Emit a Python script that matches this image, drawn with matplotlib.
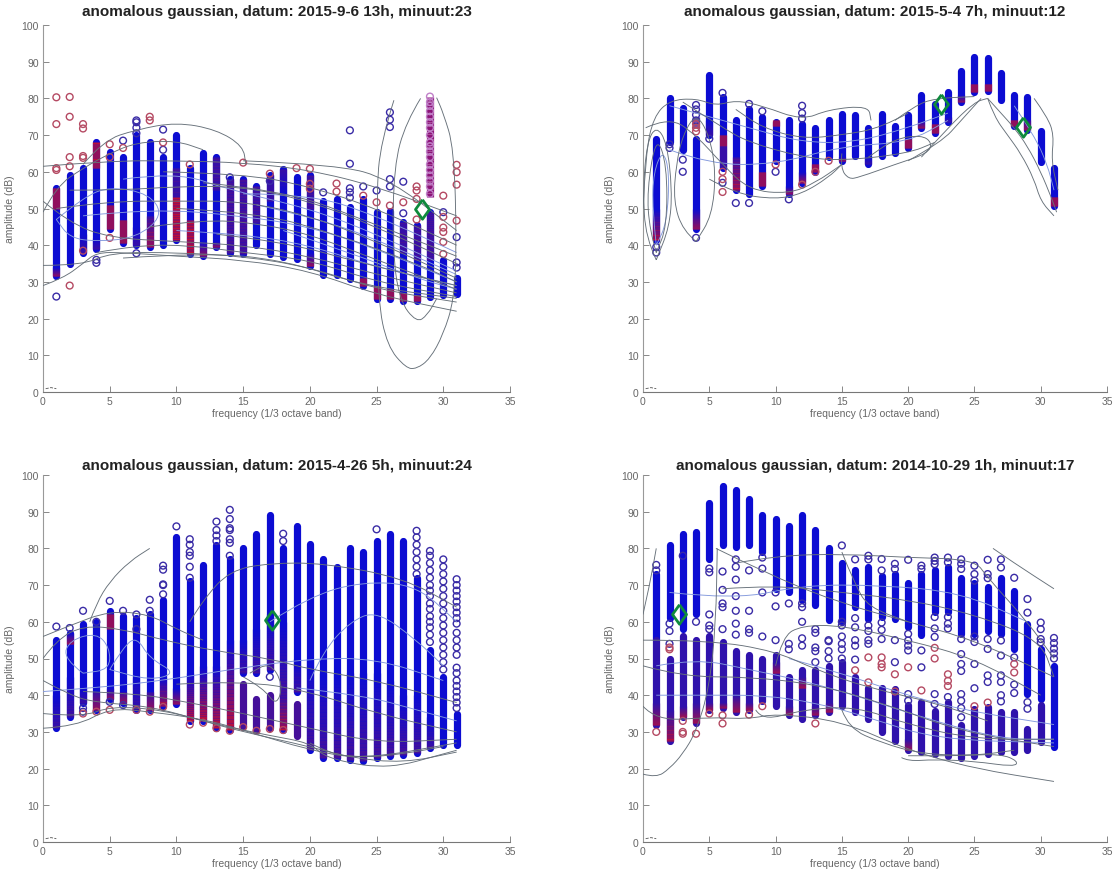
import numpy as np
import matplotlib
matplotlib.use("Agg")
import matplotlib.pyplot as plt
from matplotlib.collections import LineCollection
from matplotlib.colors import to_rgb
from matplotlib.path import Path
from matplotlib.patches import PathPatch

plt.rcParams['font.family'] = ['Liberation Sans', 'DejaVu Sans']

bands = list(range(1, 32))

# ---- panel 1
p1_title = "anomalous gaussian, datum: 2015-9-6 13h, minuut:23"
p1_top = [55.5, 59, 61, 68, 65.5, 64, 70, 68, 64, 70, 61, 65, 64, 58, 58, 56, 59, 60.8, 58.5, 59, 52, 52.6, 50.4, 52.6, 49, 49.4, 46.2, 45.4, 49, 36, 31]
p1_bot = [31.5, 35, 38, 39, 44.5, 40.5, 40, 39.5, 40, 41.5, 37.5, 37, 39.5, 38, 37.5, 40, 37.5, 36.7, 36.2, 34.4, 32, 32, 30.8, 29, 25.4, 25.4, 24.9, 24.9, 25.8, 26.3, 26.7]
p1_low_top = []
p1_low_bot = []
p1_low_x = []
# band, high, low, end colour, start colour
p1_ramps = [(1, 55.5, 50, 'r', 'r'), (1, 34, 31.5, 'r', 'b'), (3, 43, 38, 'p', 'b'), (4, 68, 61, 'r', 'r'),
            (4, 42, 39, 'p', 'b'), (5, 51, 44.5, 'r', 'r'), (6, 47, 40.5, 'r', 'r'), (7, 45, 40, 'p', 'b'),
            (8, 48, 39.5, 'r', 'p'), (10, 61, 53, 'p', 'p'), (10, 53, 41.5, 'r', 'r'), (11, 47, 37.5, 'r', 'r'),
            (12, 41, 37, 'r', 'b'), (13, 64, 55, 'p', 'p'), (13, 41, 39.5, 'r', 'b'), (14, 58, 38, 'p', 'p'),
            (15, 58, 37.5, 'p', 'p'), (16, 56, 46, 'p', 'p'), (17, 59, 52, 'p', 'p'), (18, 60.8, 54, 'b', 'p'),
            (20, 59, 50, 'p', 'p'), (20, 38, 34.4, 'r', 'b'), (24, 31, 29, 'r', 'r'), (25, 29, 25.4, 'r', 'r'),
            (26, 28, 25.4, 'r', 'r'), (27, 27, 24.9, 'r', 'r'), (28, 26.5, 24.9, 'r', 'r'), (27, 46.2, 38, 'p', 'p'),
            (28, 45.4, 36, 'p', 'p'), (29, 80.5, 53, 'm', 'm'), (29, 49, 36, 'p', 'p')]
p1_out_blue = [(1, 26), (4, 36), (4, 35.2), (6, 68.5), (7, 74), (7, 73.5), (7, 72), (7, 70.5), (7, 37.8), (9, 71.5), (9, 66),
               (14, 58.5), (17, 57.5), (21, 54.4), (23, 71.3), (23, 62.2), (23, 55.5), (23, 54.4), (23, 53), (24, 56), (25, 54.9),
               (26, 76.2), (26, 74.2), (26, 72.2), (26, 58), (26, 56), (27, 57.3), (27, 48.7), (30, 49), (31, 42.2), (31, 35.3), (31, 33.9)]
p1_out_red = [(1, 80.3), (1, 73), (1, 61), (1, 60.5), (2, 80.4), (2, 75), (2, 64), (2, 61.5), (2, 29), (3, 73), (3, 71.8),
              (3, 64.3), (3, 63.8), (3, 38.5), (5, 67.5), (5, 64), (5, 42), (6, 66.5), (8, 75), (8, 74), (9, 68),
              (11, 62), (15, 62.5), (17, 59.5), (19, 61), (20, 60.8), (20, 56.7), (20, 55.4), (22, 56.8), (22, 54.6), (24, 53.5),
              (25, 51.7), (26, 50.8), (27, 51.7), (28, 56), (28, 54.9), (28, 52.6), (28, 47), (30, 53.5), (30, 47.7), (30, 44.8),
              (30, 43.6), (30, 40.9), (30, 37.6), (31, 61.9), (31, 59.9), (31, 56.5), (31, 46.7)]
p1_out_mag = [(29, 80.5), (29, 79), (29, 78), (29, 76.5), (29, 75), (29, 73.5), (29, 72), (29, 70), (29, 68), (29, 67), (29, 65.5),
              (29, 64), (29, 62), (29, 60.5), (29, 59), (29, 57.5), (29, 56), (29, 54)]
p1_diamonds = [(28.4, 50)]
p1_curves = [
    [(0, 61.5), (5, 63), (10, 63), (15, 62.5), (20, 60.5), (25, 56), (31, 48)],
    [(3, 62), (4.5, 68.5), (7, 71.5), (10, 73.5), (13, 71.5), (15, 67), (15.2, 62)],
    [(0, 49), (1, 56), (3, 61), (5, 65), (7, 68), (10, 68.5), (12, 66)],
    [(26.3, 79.5), (25.3, 68), (25, 54), (25.1, 25), (25.8, 12.5), (27.2, 6.5), (28, 6.3), (29, 9), (30, 15.7), (30.8, 25), (31, 40), (30.8, 66.5), (30, 76), (29.5, 80.2)],
    [(28.3, 80), (27.2, 73.5), (26.3, 61.6), (26.2, 39), (26.7, 25), (28, 18.9), (28.8, 20.9), (29.5, 25.4)],
    [(0, 29), (1.5, 31), (3, 35), (4, 38), (6, 38), (10, 37), (15, 36), (20, 33), (25, 26.5), (31, 22)],
    [(0, 34.5), (3, 34.5), (5, 38), (10, 38), (15, 37), (20, 34), (25, 28), (31, 24.5)],
    [(4, 38), (7, 40), (11, 40), (15, 38), (20, 36), (25, 30), (31, 26)],
    [(2, 55), (6, 55), (10, 56), (15, 56), (20, 52), (25, 45), (31, 35)],
    [(1, 50), (5, 52), (10, 52), (15, 52), (20, 48), (25, 41), (31, 31)],
    [(8, 45), (12, 47), (16, 46), (20, 43), (25, 36), (31, 28)],
    [(9, 60), (15, 59.5), (20, 56), (25, 50), (31, 40)],
    [(15, 63), (22, 62), (26, 58), (31, 44)],
    [(0, 52), (2, 46), (5, 42), (10, 41), (15, 40), (20, 37), (25, 32), (31, 27)],
    [(12, 57), (18, 55), (24, 47), (31, 37)],
    [(10, 50), (16, 49), (22, 43), (28, 35), (31, 30)],
    [(13, 43), (18, 41), (24, 35), (31, 29)],
    [(6, 36.5), (12, 38), (18, 36), (24, 29), (31, 25.5)],
]
p1_light = [
    [(1, 47), (3, 53), (5, 56), (8, 54), (9, 48), (7, 42), (4, 41), (2, 42), (1, 47)],
    [(6, 58), (10, 60), (14, 55), (20, 50), (25, 43), (31, 33)],
    [(3, 48), (8, 50), (15, 48), (20, 45), (25, 39), (31, 30)],
    [(15, 54), (20, 54), (25, 48), (31, 38)],
    [(10, 44), (15, 43), (20, 40), (25, 34), (31, 29)],
    [(16, 51), (21, 47), (26, 40), (31, 32)],
    [(18, 44), (23, 38), (28, 31), (31, 28)],
]

# ---- panel 2
p2_title = "anomalous gaussian, datum: 2015-5-4 7h, minuut:12"
p2_top = [69, 80, 77.5, 69, 86.5, 80.5, 74, 77, 75, 73.5, 74, 73, 72, 74, 75.7, 75.5, 72, 75.7, 72.4, 75.5, 80.9, 78.5, 81.8, 87.6, 91.2, 91, 87, 80.9, 80.5, 71, 60.9]
p2_bot = [41.5, 68, 66, 44.5, 70, 61, 55, 54, 56, 63, 54, 57, 60, 64, 63, 64.4, 62, 64.4, 65.1, 66.6, 72, 70.7, 73.6, 78.9, 81.7, 82, 79.5, 72.4, 71.5, 62.7, 50.7]
p2_low_top = []
p2_low_bot = []
p2_low_x = []
p2_ramps = [(1, 50, 41.5, 'r', 'b'), (4, 50, 44.5, 'r', 'b'), (4, 75, 72, 'p', 'p'), (5, 74, 70, 'p', 'b'), (6, 70, 67, 'r', 'r'),
            (6, 67, 61, 'p', 'p'), (7, 64, 55, 'r', 'p'), (9, 60, 56, 'r', 'r'), (10, 74, 72.5, 'r', 'r'), (11, 56, 54, 'r', 'b'),
            (12, 60, 57, 'r', 'b'), (13, 62, 60, 'r', 'r'), (15, 64, 63, 'r', 'b'), (17, 64, 62, 'p', 'b'), (20, 69, 66.6, 'r', 'r'),
            (21, 74, 72, 'r', 'b'), (22, 73, 70.7, 'r', 'r'), (23, 75, 73.6, 'p', 'b'), (24, 81, 78.9, 'r', 'b'),
            (25, 84, 81.7, 'r', 'r'), (26, 84, 82, 'r', 'r'), (28, 74, 72.4, 'r', 'r'), (29, 74, 71.5, 'r', 'p'), (31, 53, 50.7, 'r', 'r')]
p2_out_blue = [(1, 39.5), (1, 38), (2, 67.5), (2, 66.5), (3, 63.3), (3, 60), (4, 78.2), (4, 77), (4, 75.5), (4, 74), (4, 42),
               (5, 69), (6, 81.5), (6, 57), (7, 51.5), (8, 78.5), (8, 51.5), (9, 76.5), (10, 60), (11, 52.5), (12, 78), (12, 76), (12, 74.5)]
p2_out_red = [(4, 73), (4, 72), (4, 71), (6, 60), (6, 58), (6, 54.5), (10, 62), (12, 56.5), (14, 63), (13, 60)]
p2_out_mag = []
p2_diamonds = [(22.5, 78.4), (28.7, 72.2)]
p2_curves = [
    [(0, 50), (0.2, 65), (0.8, 75), (2, 79.5), (4, 80), (5.5, 78), (7, 79.5), (9, 78), (12, 74), (14, 77), (17, 78), (17.2, 74)],
    [(1, 36), (0.2, 42), (0, 55), (0.3, 68), (1, 72.5), (1.8, 68), (2.2, 55), (2, 45), (1, 36)],
    [(1, 38), (0.5, 44), (0.3, 55), (1, 70), (1.8, 62), (1.8, 45), (1, 38)],
    [(4, 41), (3, 44), (2.3, 52), (2.5, 62), (3, 70), (4, 76), (5, 70), (5.5, 60), (5.2, 48), (4, 41)],
    [(0.2, 72), (2, 75), (4, 70), (6, 62), (8, 55), (11, 54), (13, 57), (15, 62)],
    [(3, 79), (6, 72), (8, 68), (12, 64), (15, 63), (20, 65), (22, 68)],
    [(5, 58), (7, 54), (10, 52.5), (12, 54), (14, 58.5), (15, 62)],
    [(15, 65), (14.9, 61), (15.5, 58), (16.3, 58.5), (19, 62), (21.5, 65), (21.8, 68), (21, 70), (19, 69), (17, 64)],
    [(20, 76), (18, 72), (15, 70), (12, 69), (9, 72), (7, 77)],
    [(19, 74), (20.5, 78), (22, 80), (25, 80.5)],
    [(21, 64), (23, 72), (25, 79), (26, 80)],
    [(20, 63), (22.5, 68), (24, 74), (25.5, 80)],
    [(26, 80), (26.5, 75), (27.5, 70), (28.5, 65), (29.5, 58), (30, 52), (31, 48)],
    [(26, 80), (27, 76), (28, 72), (29, 67), (30, 60), (30.8, 53), (31.2, 49)],
    [(29.5, 80), (30.5, 75), (31, 70), (30.8, 63), (31.3, 55)],
]
p2_light = [
    [(1, 40), (0.7, 50), (0.8, 60), (1.5, 66), (2, 60), (1.8, 46), (1, 40)],
    [(2, 78), (5, 75), (8, 72), (12, 68), (16, 68), (20, 72), (23, 76)],
    [(2, 66), (5, 62), (10, 62), (15, 67), (20, 68), (23, 74)],
    [(28, 78), (29.5, 70), (30.5, 62), (31, 55)],
]

# ---- panel 3
p3_title = "anomalous gaussian, datum: 2015-4-26 5h, minuut:24"
p3_top = [55, 57, 59.5, 60, 63, 61.5, 61, 62, 66, 83, 71, 75.5, 81, 77, 80, 84, 89, 80, 86, 81.2, 77, 74.8, 80.2, 78.9, 82, 83.9, 82, 72, 52.4, 45, 35]
p3_bot = [31, 34, 38, 36, 39, 38, 36, 36, 37, 37.5, 33, 33, 31, 30.5, 46, 46, 47, 30.6, 41, 25.1, 22.9, 22.9, 22.4, 22, 22.9, 23.3, 23.8, 24.3, 25.6, 26.5, 26.5]
p3_low_x = [15, 16, 17, 19]
p3_low_top = [43, 39, 40, 37.5]
p3_low_bot = [31.5, 30.5, 31, 28.8]
p3_ramps = [(1, 40, 31, 'p', 'b'), (2, 45, 34, 'p', 'b'), (2, 57, 54, 'r', 'b'), (3, 42, 38, 'p', 'b'), (4, 41, 36, 'r', 'p'), (5, 42, 39, 'r', 'b'),
            (5, 62, 58, 'r', 'r'), (6, 41, 38, 'r', 'p'), (7, 45, 36, 'p', 'b'), (8, 41, 36, 'r', 'p'), (9, 45, 37, 'r', 'b'),
            (10, 42, 37.5, 'r', 'b'), (11, 46, 33, 'r', 'b'), (12, 48, 33, 'r', 'b'), (13, 48, 31, 'r', 'b'), (14, 55, 30.5, 'r', 'b'),
            (15, 55, 46, 'p', 'b'), (16, 58, 46, 'p', 'b'), (17, 62, 47, 'p', 'b'), (18, 60, 40, 'p', 'b'), (18, 40, 30.6, 'r', 'p'),
            (19, 50, 41, 'p', 'b'), (20, 50, 25.1, 'p', 'b'), (21, 46, 22.9, 'p', 'b'), (22, 46, 22.9, 'p', 'b'), (23, 46, 22.4, 'p', 'b'),
            (24, 46, 22, 'p', 'b'), (25, 46, 22.9, 'p', 'b'), (26, 44, 23.3, 'p', 'b'), (27, 40, 23.8, 'p', 'b'), (28, 40, 24.3, 'p', 'b'),
            (29, 34, 25.6, 'p', 'b')]
p3_out_blue = [(1, 58.7), (2, 58.3), (3, 63), (3, 36.5), (3, 35.5), (4, 60), (5, 65.7), (5, 38.2), (6, 63), (6, 37.3), (7, 62), (7, 58), (8, 66), (8, 63),
               (9, 75.3), (9, 74.2), (9, 70.2), (9, 70), (9, 67.5), (10, 86), (11, 82.5), (11, 81), (11, 79), (11, 78), (11, 75), (11, 72),
               (13, 87.3), (13, 85), (13, 83.5), (13, 82), (14, 90.5), (14, 88), (14, 85.5), (14, 85), (14, 82.5), (14, 81.5), (14, 78), (17, 45),
               (18, 84), (18, 82), (25, 85.2), (28, 84.8), (28, 83), (28, 81), (28, 79), (28, 77), (28, 75), (28, 73),
               (29, 79.3), (29, 78), (29, 76), (29, 74), (29, 72), (29, 70), (29, 68.5), (29, 67), (29, 65), (29, 63.5), (29, 61.5), (29, 60), (29, 58.5), (29, 56.5), (29, 54.5),
               (30, 77), (30, 75), (30, 73), (30, 71), (30, 69), (30, 67), (30, 65), (30, 63), (30, 61), (30, 59), (30, 57), (30, 55), (30, 53), (30, 51), (30, 49), (30, 47),
               (31, 71.6), (31, 70), (31, 68.5), (31, 67), (31, 65.5), (31, 64), (31, 62.5), (31, 61), (31, 59.5), (31, 57), (31, 55), (31, 53), (31, 51), (31, 47.5), (31, 46), (31, 44), (31, 42.5), (31, 41), (31, 39.5), (31, 38), (31, 36.5)]
p3_out_red = [(3, 35), (4, 35.5), (5, 36), (7, 36), (8, 35.5), (9, 36.8), (11, 32), (12, 32.5), (13, 31), (14, 30.3), (15, 31.3), (16, 30.3), (17, 30.8), (18, 30.5)]
p3_out_mag = []
p3_diamonds = [(17.2, 60.5)]
p3_curves = [
    [(3.5, 60), (4, 65), (5, 71), (6.5, 76.5), (8, 80)],
    [(0, 56), (2, 59), (5, 63), (8, 62), (10, 58), (12, 55)],
    [(0, 50), (1, 55), (3, 59), (6, 58), (9, 55), (13, 52), (17, 50), (20, 47), (25, 44), (31, 38)],
    [(0, 44), (2, 40), (4, 38), (8, 37), (12, 33), (15, 30), (20, 26), (23, 23), (27, 21.5), (31, 24.5)],
    [(0, 35), (3, 34), (5, 37), (9, 36), (13, 32), (17, 29), (20, 27), (21, 23.5), (23, 21.5), (25, 20.5), (27, 21), (29, 23), (31, 25)],
    [(0, 31), (2.5, 31.5), (5, 36.5), (8, 35.5), (12, 33.5), (15, 30.5), (20, 25), (24, 22.5), (31, 27)],
    [(3, 41), (7, 40.5), (11, 38), (15, 35), (20, 31), (25, 27), (31, 28)],
    [(10, 43), (15, 44), (20, 41), (25, 35), (31, 30)],
    [(15, 45), (16.5, 42), (17.5, 37), (18, 43), (17, 49), (15.5, 46)],
    [(11, 60), (12, 66), (14, 74), (17, 76), (21, 76), (27, 72), (31, 64)],
    [(20, 27), (21.5, 24), (24, 23), (27, 24), (30, 26)],
]
p3_light = [
    [(3, 46), (1.5, 50), (2, 55), (4, 57), (5, 53), (5, 47), (3, 46)],
    [(5, 47), (6, 53), (7, 56), (8, 50), (10, 46), (8, 44), (5, 47)],
    [(0, 41), (4, 42), (9, 44), (14, 47), (20, 50), (25, 50), (30, 44)],
    [(20, 44), (21, 52), (23, 60), (25, 63), (28, 55), (30, 48)],
    [(17, 60), (20, 67), (24, 71), (28, 70), (31, 60)],
    [(19, 42), (24, 40), (28, 36), (31, 33)],
]

# ---- panel 4
p4_title = "anomalous gaussian, datum: 2014-10-29 1h, minuut:17"
p4_top = [73, 81, 84, 84.5, 92.5, 97, 96, 93.5, 89, 88, 86, 89, 85, 80, 76, 74, 74.8, 72.6, 73, 70.7, 73, 74, 74.8, 72, 70.7, 69.4, 72, 68.5, 59.3, 52.6, 48]
p4_bot = [55, 61, 58, 62, 77, 81, 80.5, 81, 79, 69, 68, 66, 64.5, 60.5, 60, 64, 60.7, 61.2, 60.7, 58.5, 56.3, 62.7, 62.7, 56.8, 56.8, 57.6, 56.8, 52.6, 40.3, 39, 26]
p4_low_x = bands[:29] + [30]
p4_low_top = [55, 50, 56, 55, 56, 54.5, 52, 51, 50, 51, 45, 47, 47, 48, 49, 45, 42, 42, 41.7, 37.2, 38.1, 35.7, 38.1, 32, 36.3, 36.8, 35.4, 35.4, 30.7, 37.2]
p4_low_bot = [32, 27.5, 34, 32.5, 36, 36.5, 35.5, 36, 38.5, 37, 34.5, 33.5, 34.5, 35.5, 37, 35.5, 33.5, 29.9, 27.6, 25, 24.5, 24, 23.5, 23, 23.5, 24, 24.4, 24.4, 25.2, 27.2]
p4_ramps = [(1, 38, 32, 'r', 'l'), (2, 36, 27.5, 'r', 'l'), (3, 37, 34, 'r', 'l'), (4, 38, 32.5, 'r', 'l'), (5, 38, 36, 'r', 'l'), (6, 38, 36.5, 'r', 'l'),
            (7, 40, 35.5, 'r', 'l'), (8, 38, 36, 'r', 'l'), (10, 49, 46, 'r', 'l'), (11, 37, 34.5, 'r', 'l'), (12, 45, 42, 'r', 'l'), (13, 37, 34.5, 'r', 'l'),
            (14, 38, 35.5, 'r', 'l'), (20, 28, 25, 'r', 'l')]
p4_out_blue = [(1, 75.5), (1, 74), (2, 59.5), (2, 57.5), (2, 54), (3, 78), (4, 60), (5, 74.5), (5, 73.5), (5, 62), (5, 59), (5, 58),
               (6, 73.7), (6, 68.7), (6, 65), (6, 64), (6, 58), (7, 77), (7, 75), (7, 71.5), (7, 67), (7, 63), (7, 59.5), (7, 56.5),
               (8, 74), (8, 63), (8, 58), (8, 57), (9, 77.5), (9, 74.5), (9, 68), (9, 56), (10, 68), (10, 64.2), (10, 55), (11, 65), (11, 54), (11, 52.5),
               (12, 65), (12, 64), (12, 60), (12, 55.5), (12, 53.5), (13, 58), (13, 57), (13, 53), (13, 52), (13, 49), (14, 55), (14, 54.7), (14, 52), (14, 50),
               (15, 80.8), (15, 60), (15, 59), (15, 56), (15, 54), (15, 52.5), (15, 50), (16, 77), (16, 61), (16, 58.5), (16, 55), (16, 53.5), (16, 49.7),
               (17, 78), (17, 77), (17, 59), (17, 57.5), (17, 55), (17, 54), (18, 77.1), (18, 74), (18, 59.8), (18, 57.8), (18, 55.3),
               (19, 75.8), (19, 74.4), (19, 55), (19, 49), (20, 76.9), (20, 56.7), (20, 54.9), (20, 53.5), (20, 52.2), (20, 40.3), (20, 38.5),
               (21, 75.3), (21, 74.4), (21, 52.2), (21, 47.6), (22, 77.5), (22, 76.6), (22, 75.7), (22, 61.3), (22, 58.2), (22, 55.9), (22, 40.3), (22, 37.6),
               (23, 77.5), (23, 76.2), (23, 61.3), (23, 59.5), (23, 58.2), (23, 39.5), (24, 77), (24, 75.8), (24, 74.4), (24, 55.3), (24, 51.2), (24, 48.5), (24, 46.6), (24, 40.3), (24, 38.5), (24, 36.5), (24, 34),
               (25, 75.3), (25, 73), (25, 71.2), (25, 56), (25, 54.5), (25, 48.5), (25, 41.9), (26, 76.9), (26, 73), (26, 71.9), (26, 55.3), (26, 52.6), (26, 45.4), (26, 43.6),
               (27, 77), (27, 74.8), (27, 54.9), (27, 50.8), (27, 45.4), (27, 43.6), (27, 40), (27, 38.3), (28, 72), (28, 50.3), (28, 42.9), (28, 40.6),
               (29, 66.2), (29, 62.5), (29, 38.1), (29, 36.3), (30, 59.8), (30, 58), (30, 55.3), (30, 54.4), (31, 55.6), (31, 54.2), (31, 52.7), (31, 51.4), (31, 50)]
p4_out_red = [(1, 30), (2, 53), (2, 52.5), (3, 30), (3, 29.5), (3, 33), (4, 29.5), (5, 35), (6, 34.5), (6, 32.3), (8, 34.7), (9, 37), (13, 32.3),
              (16, 46.8), (17, 50.3), (17, 43.5), (18, 50.3), (18, 48.5), (18, 47.6), (19, 45.7), (19, 41), (20, 47.6), (21, 41.3), (22, 52.9), (22, 50),
              (23, 45.7), (23, 43.9), (23, 42.5), (25, 37), (26, 38), (28, 48.5), (28, 46.2)]
p4_out_mag = []
p4_diamonds = [(2.7, 62)]
p4_curves = [
    [(0, 18.5), (1, 17.5), (2, 20), (3, 24), (4, 30), (5, 42), (5.5, 60), (5.6, 80)],
    [(0, 62), (0.5, 70), (1, 80)],
    [(0, 37), (1, 33), (5, 34), (8, 33.5), (10, 35), (15, 33), (20, 25), (25, 20), (31, 16.5)],
    [(0, 55), (5, 55), (10, 52), (13, 47), (17, 42), (22, 38), (26, 33)],
    [(0, 48), (3, 45), (8, 45), (13, 43), (18, 38), (24, 30), (31, 26)],
    [(5.5, 80), (10, 72), (15, 65), (20, 60), (25, 55), (31, 45)],
    [(6, 69), (10, 70), (15, 68), (20, 66), (25, 62), (30, 55), (31, 45)],
    [(10, 48), (10.5, 56), (12, 59), (15, 59), (20, 55), (25, 50), (30, 40)],
    [(7, 76), (10, 78), (15, 78.5), (20, 77.5), (25, 77), (26, 72), (29, 60), (31, 50)],
    [(26.4, 80), (28, 76), (31, 69)],
    [(15, 79), (16, 70), (17, 64), (20, 60)],
    [(8.5, 36), (9, 33), (12, 36), (16, 37), (20, 32), (25, 28), (31, 28)],
    [(19.5, 23), (20, 22), (22, 22.5), (25, 22), (28, 20.5), (28.3, 22), (27, 24), (24, 23.5), (20, 23.5)],
    [(15, 36), (15.5, 31), (18, 27), (21, 24), (25, 23.5), (28, 25)],
]
p4_light = [
    [(1, 48), (4, 50), (8, 47), (12, 44), (16, 40), (21, 34), (27, 28), (31, 28)],
    [(1, 40), (5, 40), (9, 40), (13, 38), (17, 34), (22, 28), (31, 27)],
    [(2, 68), (7, 66), (12, 70), (18, 70), (24, 68), (29, 60)],
    [(11, 50), (15, 46), (19, 41), (24, 36), (31, 32)],
]

# small stray curve all four panels have at the origin
origin_x = [0.2, 0.6, 1.0]
origin_y = [0.9, 1.2, 0.9]

COLS = {'b': '#0c0cd2', 'p': '#45109a', 'l': '#2f12ac', 'r': '#bc1038', 'm': '#8c1478'}
COL_W = 5.2


def ramp(ax, x, hi, lo, start, end):
    # colour fade drawn as short stacked pieces
    cuts = np.linspace(hi, lo, 25)
    a = np.array(to_rgb(COLS[start]))
    b = np.array(to_rgb(COLS[end]))
    segs = [[(x, cuts[i]), (x, cuts[i + 1])] for i in range(24)]
    cols = [a + (b - a) * i / 23 for i in range(24)]
    ax.add_collection(LineCollection(segs, colors=cols, linewidths=COL_W, capstyle='butt', zorder=3))


def curve(ax, pts, col):
    # quadratic bezier through the read points, so the outlines are not angular
    verts = [pts[0]]
    codes = [Path.MOVETO]
    for i in range(1, len(pts) - 1):
        mid = ((pts[i][0] + pts[i + 1][0]) / 2, (pts[i][1] + pts[i + 1][1]) / 2)
        verts += [pts[i], mid]
        codes += [Path.CURVE3, Path.CURVE3]
    verts.append(pts[-1])
    codes.append(Path.LINETO)
    ax.add_patch(PathPatch(Path(verts, codes), facecolor='none', edgecolor=col, lw=0.65, zorder=5))


def draw_panel(pos, title, top, bot, low_x, low_top, low_bot, ramps, out_blue, out_red, out_mag, diamonds, curves, light, low_col, pad):
    ax = fig.add_axes(pos)
    ax.vlines(bands, bot, top, colors=COLS['b'], linewidth=COL_W, capstyle='round', zorder=2)
    if low_x:
        ax.vlines(low_x, low_bot, low_top, colors=COLS[low_col], linewidth=COL_W, capstyle='round', zorder=2)
    for x, hi, lo, end, start in ramps:
        ramp(ax, x, hi, lo, start, end)
    for pts, col in [(out_blue, '#3a2ca6'), (out_red, '#b54a63'), (out_mag, '#c080c8')]:
        if pts:
            ax.scatter([p[0] for p in pts], [p[1] for p in pts], s=24, facecolors='none',
                       edgecolors=col, linewidths=1.0, zorder=4)
    for c in light:
        curve(ax, c, '#8298dc')
    for c in curves:
        curve(ax, c, '#667079')
    ax.plot(origin_x, origin_y, color='#555555', lw=0.6, ls='--', clip_on=False)
    ax.plot([d[0] for d in diamonds], [d[1] for d in diamonds], ls='none',
            marker=[(0, 1), (0.72, 0), (0, -1), (-0.72, 0), (0, 1)], ms=14, mfc='none',
            mec='#0e8a3c', mew=2, zorder=6)
    ax.set_xlim(0, 35)
    ax.set_ylim(0, 100)
    ax.set_xticks(range(0, 36, 5))
    ax.set_yticks(range(0, 101, 10))
    ax.spines['top'].set_visible(False)
    ax.spines['right'].set_visible(False)
    ax.spines['left'].set_color('#999999')
    ax.spines['bottom'].set_color('#777777')
    ax.tick_params(direction='in', length=4, width=0.7, color='#888888', labelcolor='#666666', labelsize=7.5, pad=3)
    ax.set_xlabel('frequency (1/3 octave band)', fontsize=7.5, color='#666666', labelpad=1)
    ax.set_ylabel('amplitude (dB)', fontsize=7.5, color='#666666', labelpad=5)
    ax.set_title(title, fontsize=11, fontweight='bold', color='#222222', pad=pad)
    return ax


W, H = 1116.0, 870.0
fig = plt.figure(figsize=(W / 100, H / 100), dpi=100)

draw_panel([43 / W, (H - 393) / H, 467 / W, 367 / H], p1_title, p1_top, p1_bot, p1_low_x, p1_low_top, p1_low_bot,
           p1_ramps, p1_out_blue, p1_out_red, p1_out_mag, p1_diamonds, p1_curves, p1_light, 'p', 7)
draw_panel([643 / W, (H - 393) / H, 464 / W, 367 / H], p2_title, p2_top, p2_bot, p2_low_x, p2_low_top, p2_low_bot,
           p2_ramps, p2_out_blue, p2_out_red, p2_out_mag, p2_diamonds, p2_curves, p2_light, 'p', 7)
draw_panel([43 / W, (H - 843) / H, 467 / W, 367 / H], p3_title, p3_top, p3_bot, p3_low_x, p3_low_top, p3_low_bot,
           p3_ramps, p3_out_blue, p3_out_red, p3_out_mag, p3_diamonds, p3_curves, p3_light, 'p', 4)
draw_panel([643 / W, (H - 843) / H, 464 / W, 367 / H], p4_title, p4_top, p4_bot, p4_low_x, p4_low_top, p4_low_bot,
           p4_ramps, p4_out_blue, p4_out_red, p4_out_mag, p4_diamonds, p4_curves, p4_light, 'l', 4)

fig.savefig("out.png", dpi=100)
